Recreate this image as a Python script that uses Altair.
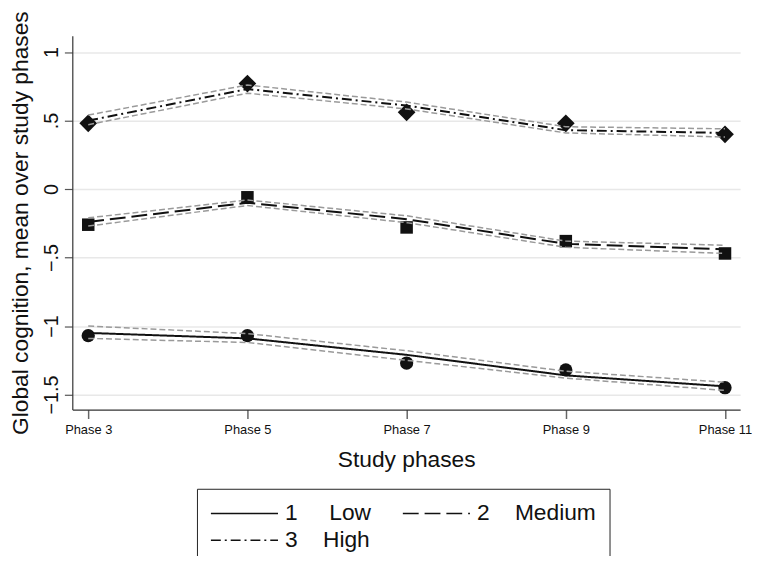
import altair as alt
import pandas as pd

phases = [3, 5, 7, 9, 11]
groups = ["1", "2", "3"]
group_labels = ["1\u00a0\u00a0\u00a0\u00a0\u00a0Low", "2\u00a0\u00a0\u00a0\u00a0Medium", "3\u00a0\u00a0\u00a0\u00a0High"]
marker_shapes = ["circle", "square", "diamond"]
marker_sizes = [180, 160, 320]

low_obs = [-1.07, -1.07, -1.27, -1.32, -1.45]
low_fit = [-1.05, -1.09, -1.21, -1.36, -1.44]
low_lo = [-1.09, -1.12, -1.25, -1.38, -1.47]
low_hi = [-1.00, -1.055, -1.18, -1.33, -1.41]

med_obs = [-0.26, -0.06, -0.28, -0.38, -0.47]
med_fit = [-0.24, -0.10, -0.22, -0.40, -0.44]
med_lo = [-0.27, -0.12, -0.245, -0.425, -0.47]
med_hi = [-0.21, -0.08, -0.195, -0.38, -0.41]

high_obs = [0.48, 0.77, 0.56, 0.48, 0.40]
high_fit = [0.50, 0.73, 0.61, 0.43, 0.41]
high_lo = [0.47, 0.70, 0.585, 0.41, 0.38]
high_hi = [0.54, 0.76, 0.635, 0.455, 0.44]

rows = []
for g, obs, fit, lo, hi in [
    ("1", low_obs, low_fit, low_lo, low_hi),
    ("2", med_obs, med_fit, med_lo, med_hi),
    ("3", high_obs, high_fit, high_lo, high_hi),
]:
    for p, o, f, l, h in zip(phases, obs, fit, lo, hi):
        rows.append({"group": g, "marker": g, "phase": p, "obs": o, "fit": f, "lo": l, "hi": h})
df = pd.DataFrame(rows)

FONT = "Liberation Sans"

x_enc = alt.X(
    "phase:Q",
    scale=alt.Scale(domain=[2.8, 11.19], nice=False, zero=False),
    axis=alt.Axis(
        values=phases,
        labelExpr="'Phase ' + datum.value",
        title="Study phases",
        grid=False,
        tickSize=9,
        tickColor="#666",
        tickWidth=1.5,
        domainColor="#333",
        domainWidth=1.2,
        labelFontSize=13,
        labelPadding=5,
        labelColor="#111",
        labelFont=FONT,
        titleFont=FONT,
        titleFontSize=23,
        titleFontWeight="normal",
        titleColor="#111",
        titlePadding=12,
    ),
)

def y_enc(field):
    return alt.Y(
        f"{field}:Q",
        scale=alt.Scale(domain=[-1.61, 1.12], nice=False, zero=False),
        axis=alt.Axis(
            values=[-1.5, -1, -0.5, 0, 0.5, 1],
            labelExpr="replace(format(datum.value, '~g'), '0.', '.')",
            title="Global cognition, mean over study phases",
            grid=True,
            gridColor="#e8e8e8",
            gridWidth=1.5,
            tickSize=8,
            tickColor="#555",
            tickWidth=1.2,
            domainColor="#333",
            domainWidth=1.2,
            labelAngle=270,
            labelAlign="center",
            labelBaseline="bottom",
            labelFontSize=20,
            labelPadding=3,
            labelColor="#111",
            labelFont=FONT,
            titleFont=FONT,
            titleFontSize=23,
            titleFontWeight="normal",
            titleColor="#111",
            titlePadding=9,
        ),
    )

label_expr = " : ".join(
    f"datum.label == '{g}' ? '{lab}'" for g, lab in zip(groups, group_labels)
) + " : datum.label"

fit = alt.Chart(df).mark_line(color="#111", strokeWidth=2).encode(
    x=x_enc,
    y=y_enc("fit"),
    strokeDash=alt.StrokeDash(
        "group:N",
        scale=alt.Scale(type="ordinal", domain=groups, range=[[1, 0], [16, 6], [10, 4, 2, 4]]),
        legend=alt.Legend(
            title=None,
            orient="none",
            direction="horizontal",
            legendX=126,
            legendY=458,
            columns=2,
            columnPadding=31,
            rowPadding=3,
            clipHeight=24,
            symbolType="stroke",
            symbolSize=4600,
            symbolStrokeWidth=1.5,
            symbolStrokeColor="#111",
            labelFontSize=23,
            labelFont=FONT,
            labelColor="#111",
            labelOffset=6,
            labelLimit=300,
            labelExpr=label_expr,
            strokeColor="#222",
            padding=13,
        ),
    ),
)

point_layers = []
for g, shp, sz in zip(groups, marker_shapes, marker_sizes):
    point_layers.append(
        alt.Chart(df)
        .transform_filter(alt.datum.marker == g)
        .mark_point(filled=True, color="#111", opacity=1, shape=shp, size=sz)
        .encode(x=x_enc, y=y_enc("obs"))
    )

ci_lo = alt.Chart(df).mark_line(color="#9a9a9a", strokeWidth=1.5, strokeDash=[6, 3]).encode(
    x=x_enc, y=y_enc("lo"), detail="marker:N"
)
ci_hi = alt.Chart(df).mark_line(color="#9a9a9a", strokeWidth=1.5, strokeDash=[6, 3]).encode(
    x=x_enc, y=y_enc("hi"), detail="marker:N"
)

chart = (
    alt.layer(fit, *point_layers, ci_lo, ci_hi)
    .properties(
        width=675,
        height=378,
        padding={"left": 65, "top": 25, "right": 12, "bottom": 145},
        autosize=alt.AutoSizeParams(type="none"),
        background="white",
    )
    .configure_view(stroke=None)
)

chart.save("out.html", embed_options={"renderer": "svg", "actions": False})
